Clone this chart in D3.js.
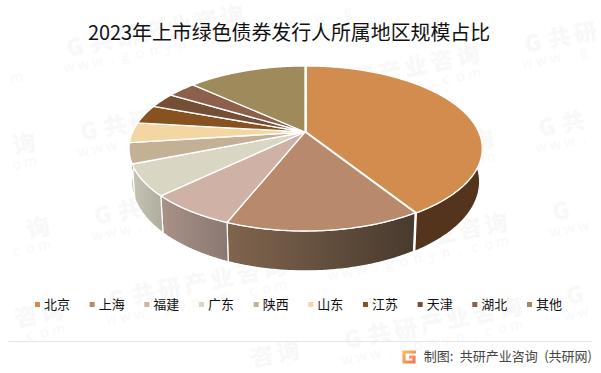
<!DOCTYPE html>
<html>
<head>
<meta charset="utf-8">
<script src="https://cdn.jsdelivr.net/npm/d3@7"></script>
<style>
    html, body { margin: 0; padding: 0; background: #fff; }
    text { font-family: "Noto Sans CJK SC", "Noto Sans", sans-serif; }
</style>
</head>
<body>
<div id="chart"></div>
<script>
// Data
const categories = ["北京", "上海", "福建", "广东", "陕西", "山东", "江苏", "天津", "湖北", "其他"];
const shares = [41.1, 14.9, 6.8, 6.1, 4.0, 4.0, 3.7, 3.0, 3.2, 13.2];
const colors = ["#d28c4e", "#b9896b", "#cfb1a5", "#d9d6c3", "#c4b095", "#f3d6a1", "#87521f", "#744f35", "#8c604a", "#9e8a5b"];
const wallLeft = ["#54341c", "#80654e", "#a99288", "#c6c4b2", "#c0c0ae", "#b5a48b", "#e0c594", "#6f441b", "#60412b", "#7a5240"];
const wallRight = ["#54341c", "#483a2e", "#8a7872", "#aeac9c", "#aeac9c", "#a8977f", "#d0b585", "#5f3a17", "#553a26", "#6a4636"];
const titleText = "2023年上市绿色债券发行人所属地区规模占比";
const sourceText = "制图: 共研产业咨询 (共研网)";
const markName = "G共研产业咨询";
const markSite = "www.gonyn.com";

const width = 601;
const height = 373;

const svg = d3.select("#chart").append("svg")
    .attr("width", width)
    .attr("height", height)
    .style("display", "block");

// Watermark on a tilted grid, letter by letter so the ones past the edge can be left out
const marks = svg.append("g").attr("fill", "#f8f8f8");
const tilt = -11.3 * Math.PI / 180;

function markText(str, x0, y0, step, size, weight) {
    const pad = size * 0.65;
    str.split("").forEach(function (c, k) {
        const x = x0 + k * step * Math.cos(tilt);
        const y = y0 + k * step * Math.sin(tilt);
        if (x < pad || x > width - pad || y < pad || y > height - pad) return;
        marks.append("text")
            .attr("transform", "translate(" + x + "," + y + ") rotate(-11.3)")
            .attr("text-anchor", "middle")
            .attr("dy", "0.36em")
            .attr("font-size", size)
            .attr("font-weight", weight)
            .text(c);
    });
}

d3.range(-2, 5).forEach(function (i) {
    d3.range(-2, 6).forEach(function (j) {
        const x = 75 + i * 222 + j * 14;
        const y = 47 - i * 44 + j * 84;
        markText(markName, x, y, 26.7, 23, 900);
        markText(markSite, x - 6, y + 20, 14.4, 14, 400);
    });
});

// Title
svg.append("text")
    .attr("x", 289)
    .attr("y", 39.5)
    .attr("text-anchor", "middle")
    .attr("font-size", 19.9)
    .attr("fill", "#111")
    .text(titleText);

// Pie in perspective: the unit circle goes through a small projective map
const apexX = 305, apexY = 132;
const persp = -0.2, scaleU = 172.4, scaleV = 79.2;

function topPoint(angle) {
    const u = Math.sin(angle), v = -Math.cos(angle);
    const w = 1 + persp * v;
    return [apexX + scaleU * u / w, apexY + scaleV * v / w];
}

// lower rim of the wall
function bottomPoint(angle) {
    const p = topPoint(angle);
    return [apexX + (p[0] - apexX) * 0.985, apexY + 32 + (p[1] - apexY) * 1.08];
}

function arcAngles(d) {
    const n = Math.ceil((d.endAngle - d.startAngle) / 0.01);
    return d3.range(n + 1).map(function (i) {
        return d.startAngle + (d.endAngle - d.startAngle) * i / n;
    });
}

const pie = d3.pie().sort(null).value(function (d) { return d; });
const slices = pie(shares);
const line = d3.line();
const defs = svg.append("defs");
const chart = svg.append("g");

// 北京 sits a little apart from the rest
function sliceGroup(i) {
    return chart.append("g").attr("transform", i === 0 ? "translate(1.3,0)" : null);
}

// Walls first, the top faces cover the back part of them
slices.forEach(function (d, i) {
    const angles = arcAngles(d);
    const upper = angles.map(topPoint);
    const lower = angles.map(bottomPoint);
    const xs = upper.concat(lower).map(function (p) { return p[0]; });
    const grad = defs.append("linearGradient")
        .attr("id", "wall" + i)
        .attr("gradientUnits", "userSpaceOnUse")
        .attr("x1", d3.min(xs)).attr("x2", d3.max(xs))
        .attr("y1", 0).attr("y2", 0);
    grad.append("stop").attr("offset", 0).attr("stop-color", wallLeft[i]);
    grad.append("stop").attr("offset", 1).attr("stop-color", wallRight[i]);
    sliceGroup(i).append("path")
        .attr("d", line(upper.concat(lower.reverse())) + "Z")
        .attr("fill", "url(#wall" + i + ")")
        .attr("stroke", "#fff")
        .attr("stroke-width", 1.2)
        .attr("stroke-linejoin", "round");
});

slices.forEach(function (d, i) {
    const pts = [[apexX, apexY]].concat(arcAngles(d).map(topPoint));
    sliceGroup(i).append("path")
        .attr("d", line(pts) + "Z")
        .attr("fill", colors[i])
        .attr("stroke", "#fff")
        .attr("stroke-width", 1.3)
        .attr("stroke-linejoin", "round");
});

// Legend
const legendX = d3.scalePoint().domain(categories).range([35, 527]);
const legend = svg.append("g");
categories.forEach(function (c, i) {
    legend.append("rect")
        .attr("x", legendX(c))
        .attr("y", 302)
        .attr("width", 5)
        .attr("height", 5)
        .attr("fill", colors[i]);
    legend.append("text")
        .attr("x", legendX(c) + 9)
        .attr("y", 304.5)
        .attr("dy", "0.36em")
        .attr("font-size", 13)
        .attr("fill", "#111")
        .text(c);
});

// Footer
svg.append("line")
    .attr("x1", 8).attr("x2", 592)
    .attr("y1", 341.5).attr("y2", 341.5)
    .attr("stroke", "#e6e6e6");

const logoGrad = defs.append("linearGradient")
    .attr("id", "logoGrad")
    .attr("gradientUnits", "userSpaceOnUse")
    .attr("x1", 402).attr("x2", 416).attr("y1", 350).attr("y2", 364);
logoGrad.append("stop").attr("offset", 0).attr("stop-color", "#fbc25e");
logoGrad.append("stop").attr("offset", 1).attr("stop-color", "#f0705a");
svg.append("path")
    .attr("d", "M416 352H404V362H414V357H409")
    .attr("fill", "none")
    .attr("stroke", "url(#logoGrad)")
    .attr("stroke-width", 3.2);
svg.append("text")
    .attr("x", 592)
    .attr("y", 356)
    .attr("dy", "0.36em")
    .attr("text-anchor", "end")
    .attr("font-size", 13)
    .attr("word-spacing", 3.5)
    .attr("fill", "#444")
    .text(sourceText);
</script>
</body>
</html>
